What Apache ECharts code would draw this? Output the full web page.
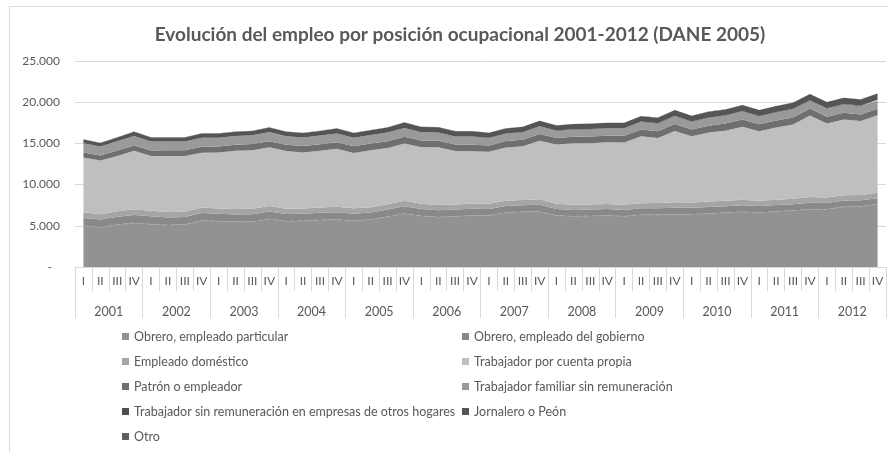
<!DOCTYPE html>
<html>
<head>
<meta charset="utf-8">
<script src="https://cdn.jsdelivr.net/npm/echarts@6/dist/echarts.min.js"></script>
<style>
html,body{margin:0;padding:0;background:#fff;}
#c{width:888px;height:452px;}
</style>
</head>
<body>
<div id="c"></div>
<script>
const years = ['2001','2002','2003','2004','2005','2006','2007','2008','2009','2010','2011','2012'];
const quarterLabels = ['I','II','III','IV'];
const yTicks = [0, 5000, 10000, 15000, 20000, 25000];

const particular = [5000,4800,5150,5350, 5200,5100,5150,5650, 5550,5500,5500,5850, 5550,5600,5700,5750, 5600,5750,6100,6500, 6200,6050,6150,6250, 6250,6600,6700,6750, 6250,6150,6200,6250, 6150,6350,6350,6400, 6400,6500,6600,6700, 6600,6750,6850,7000, 7000,7300,7350,7650];
const gobierno = [950,950,950,950, 950,920,920,900, 900,880,900,880, 880,870,880,880, 870,860,870,880, 850,850,820,820, 800,800,800,810, 800,780,780,780, 780,780,790,800, 800,790,780,790, 800,780,780,800, 780,760,760,700];
const domestico = [680,650,680,700, 670,660,650,680, 660,650,660,680, 650,640,650,680, 660,650,640,660, 640,630,620,640, 620,630,640,650, 620,610,620,630, 610,620,640,650, 640,650,660,670, 650,640,660,680, 660,650,640,660];
const cuentaPropia = [6660,6510,6700,7100, 6660,6800,6740,6650, 6790,7070,7120,7110, 6990,6800,6890,7030, 6720,6920,6840,6950, 6850,7010,6490,6330, 6310,6475,6500,7120, 7205,7480,7430,7465, 7555,8110,7870,8665, 8020,8375,8510,8870, 8420,8765,9015,9910, 8965,9200,8970,9405];
const patron = [600,620,650,650, 650,680,700,700, 720,730,740,750, 760,770,780,790, 800,800,810,820, 800,790,780,790, 780,790,800,810, 790,800,810,810, 820,830,830,840, 830,840,850,860, 850,840,850,840, 820,810,800,800];
const familiar = [1130,1100,1120,1150, 1100,1080,1070,1100, 1080,1060,1070,1100, 1050,1040,1050,1080, 1040,1030,1050,1070, 1020,1000,990,1000, 880,870,890,900, 850,840,850,860, 880,900,900,930, 920,930,950,970, 950,970,980,950, 980,990,990,1000];
const sinRemuneracion = [0,0,0,0, 0,0,0,0, 0,0,0,0, 0,0,0,0, 0,0,0,0, 0,0,0,0, 40,45,50,50, 45,50,50,55, 55,60,60,65, 60,65,70,70, 70,75,75,80, 75,80,80,85];
const jornalero = [450,430,460,500, 480,470,480,520, 500,510,530,560, 540,550,570,600, 580,590,620,650, 640,640,630,650, 600,610,630,650, 620,630,640,650, 650,660,670,690, 680,690,700,720, 700,710,720,720, 730,740,750,770];
const otro = [30,30,30,30, 30,30,30,30, 30,30,30,30, 30,30,30,30, 30,30,30,30, 30,30,30,30, 20,20,20,20, 20,20,20,20, 20,20,20,20, 20,20,20,20, 20,20,20,20, 20,20,20,20];

const seriesNames = [
  'Obrero, empleado particular',
  'Obrero, empleado del gobierno',
  'Empleado doméstico',
  'Trabajador por cuenta propia',
  'Patrón o empleador',
  'Trabajador familiar sin remuneración',
  'Trabajador sin remuneración en empresas de otros hogares',
  'Jornalero o Peón',
  'Otro'
];
const seriesData = [particular, gobierno, domestico, cuentaPropia, patron, familiar, sinRemuneracion, jornalero, otro];
const colors = ['#929292','#898989','#a5a5a5','#bfbfbf','#6f6f6f','#9a9a9a','#4f4f4f','#555555','#5e5e5e'];

const categories = [];
years.forEach(y => quarterLabels.forEach(q => categories.push(y + '-' + q)));

const FONT = 'Lato';
const TXT = '#595959';

const chart = echarts.init(document.getElementById('c'), null, {renderer: 'canvas'});
const legendBase = {
  orient: 'vertical', top: 330, itemGap: 12,
  itemWidth: 7, itemHeight: 7, icon: 'rect', padding: 0,
  textStyle: {fontFamily: FONT, fontSize: 12.5, color: TXT}
};
const option = {
  backgroundColor: '#ffffff',
  animation: false,
  color: colors,
  title: {
    text: 'Evolución del empleo por posición ocupacional 2001-2012 (DANE 2005)',
    left: 455, top: 20, textAlign: 'center',
    textStyle: {fontFamily: FONT, fontSize: 19, fontWeight: 'bold', color: TXT}
  },
  graphic: [{
    type: 'rect', shape: {x: 9.5, y: 6.5, width: 900, height: 460},
    style: {fill: 'none', stroke: '#d9d9d9', lineWidth: 1}, silent: true, z: -1
  }],
  grid: {left: 75, right: 2, top: 61, bottom: 185, containLabel: false},
  legend: [
    Object.assign({}, legendBase, {
      data: [seriesNames[0], seriesNames[2], seriesNames[4], seriesNames[6], seriesNames[8]],
      left: 122
    }),
    Object.assign({}, legendBase, {
      data: [seriesNames[1], seriesNames[3], seriesNames[5], seriesNames[7]],
      left: 462
    })
  ],
  xAxis: [
    {
      type: 'category', data: categories, boundaryGap: true,
      axisLine: {show: true, lineStyle: {color: '#d9d9d9'}},
      axisTick: {show: true, interval: 0, length: 24, lineStyle: {color: '#d9d9d9'}},
      axisLabel: {interval: 0, margin: 8, fontFamily: FONT, fontSize: 12, color: TXT,
        formatter: v => v.split('-')[1]},
      splitLine: {show: false}
    },
    {
      type: 'category', data: years, boundaryGap: true, position: 'bottom',
      axisLine: {show: false},
      axisTick: {show: true, interval: 0, length: 51, lineStyle: {color: '#d9d9d9'}},
      axisLabel: {interval: 0, margin: 38, fontFamily: FONT, fontSize: 12.5, color: TXT},
      splitLine: {show: false}
    }
  ],
  yAxis: {
    type: 'value', min: yTicks[0], max: yTicks[yTicks.length - 1], interval: yTicks[1] - yTicks[0],
    axisLine: {show: false}, axisTick: {show: false},
    axisLabel: {margin: 15, fontFamily: FONT, fontSize: 12, color: TXT,
      formatter: v => v === 0 ? '{z|-}' : v.toLocaleString('de-DE'),
      rich: {z: {fontFamily: FONT, fontSize: 12, color: TXT, padding: [0, 8, 0, 0]}}
    },
    splitLine: {lineStyle: {color: '#d9d9d9', width: 1}}
  },
  series: seriesData.map((d, i) => ({
    name: seriesNames[i], type: 'line', stack: 'total', data: d,
    xAxisIndex: 0, yAxisIndex: 0,
    showSymbol: false, symbol: 'none',
    lineStyle: i === 0 ? {width: 1, color: '#ababab', type: [4, 4]} : {width: 0},
    areaStyle: {color: colors[i], opacity: 1},
    itemStyle: {color: colors[i]}
  }))
};
chart.setOption(option);
</script>
</body>
</html>
